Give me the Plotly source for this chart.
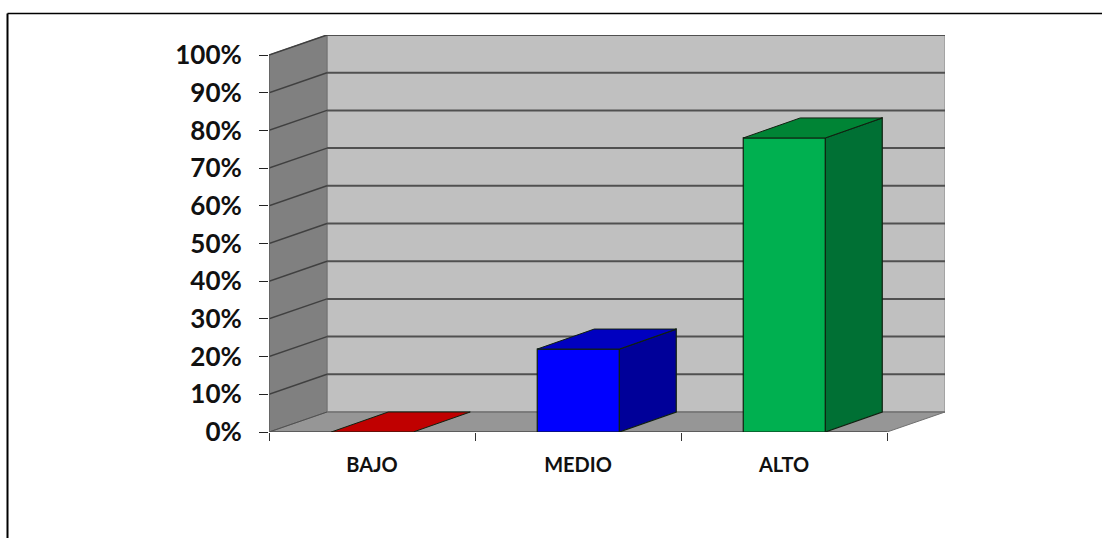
import plotly.graph_objects as go

categories = ["BAJO", "MEDIO", "ALTO"]
values = [0, 22, 78]
front_colors = ["#FF0000", "#0000FF", "#00B050"]
top_colors = ["#C00000", "#0000C0", "#008435"]
side_colors = ["#990000", "#000099", "#007034"]
pct_ticks = list(range(0, 101, 10))
pct_labels = [f"{p}%" for p in pct_ticks]

W, H = 1102, 538
PX_L, PX_R, PX_T, PX_B = 269, 945, 35, 432      # plot area box in the page
CAT_PX = 206
PCT_PX = 3.77
DX = 58 / CAT_PX      # depth offset, in category units
BAR_DX = 57 / CAT_PX  # bars are very slightly shallower than the floor
DY = 20 / PCT_PX      # depth offset, in percent
BAR = 82 / CAT_PX
BAR_SHIFT = 0.25 / CAT_PX
N = len(categories)

fig = go.Figure()


def poly(xs, ys, fill, line="#404040", lw=1):
    fig.add_trace(go.Scatter(x=xs, y=ys, mode="lines", fill="toself", fillcolor=fill,
                             line=dict(color=line, width=lw), hoverinfo="skip", showlegend=False))


def seg(xs, ys, color, lw):
    fig.add_trace(go.Scatter(x=xs, y=ys, mode="lines", line=dict(color=color, width=lw),
                             hoverinfo="skip", showlegend=False))


# walls and floor
poly([DX, N + DX, N + DX, DX, DX], [DY, DY, 100 + DY, 100 + DY, DY], "#C0C0C0", "#9A9A9A", 1.5)
poly([0, DX, DX, 0, 0], [0, DY, 100 + DY, 100, 0], "#808080", "#707070", 1)
poly([0, N, N + DX, DX, 0], [0, 0, DY, DY, 0], "#969696", "#707070", 1)

# gridlines on the back and side walls
for p in pct_ticks[1:]:
    seg([DX, N + DX], [p + DY, p + DY], "#505050", 2)
    seg([0, DX], [p, p + DY], "#404040", 1.5)
seg([0, DX], [0, DY], "#505050", 1)
seg([DX, N + DX], [DY, DY], "#707070", 1)

# axis lines
seg([0, N], [0, 0], "#505050", 1.5)
seg([0, 0], [0, 100], "#606060", 1.5)

# pseudo 3-D bars
for i, v in enumerate(values):
    x0 = i + 0.5 + BAR_SHIFT - BAR / 2
    x1 = i + 0.5 + BAR_SHIFT + BAR / 2
    if v > 0:
        poly([x1, x1 + BAR_DX, x1 + BAR_DX, x1, x1], [0, DY, v + DY, v, 0], side_colors[i], "#102010", 1.2)
        poly([x0, x1, x1, x0, x0], [0, 0, v, v, 0], front_colors[i], "#102010", 1.2)
    poly([x0, x1, x1 + BAR_DX, x0 + BAR_DX, x0], [v, v, v + DY, v + DY, v], top_colors[i], "#102010", 1)

fig.update_layout(
    width=W, height=H,
    margin=dict(l=PX_L, r=W - PX_R, t=PX_T, b=H - PX_B, autoexpand=False),
    paper_bgcolor="white", plot_bgcolor="white", showlegend=False,
    xaxis=dict(
        range=[0, N + DX], showgrid=False, zeroline=False, showline=False,
        tickmode="array", tickvals=[i + 0.5 for i in range(N)], ticktext=categories,
        ticks="", ticklabelstandoff=19,
        tickfont=dict(family="Lato", size=20, color="#111111", weight="bold"),
        minor=dict(tickmode="array", tickvals=list(range(N + 1)), ticks="outside",
                   ticklen=8, tickwidth=1, tickcolor="#333333", showgrid=False),
    ),
    yaxis=dict(
        range=[0, 397 / PCT_PX], showgrid=False, zeroline=False, showline=False,
        tickmode="array", tickvals=pct_ticks, ticktext=pct_labels,
        ticks="outside", ticklen=9, tickwidth=1, tickcolor="#222222",
        ticklabelstandoff=12,
        tickfont=dict(family="Lato", size=26, color="#111111", weight="bold"),
    ),
    shapes=[
        dict(type="line", xref="paper", yref="paper", layer="below",
             x0=(7.5 - PX_L) / (PX_R - PX_L), x1=(W + 5 - PX_L) / (PX_R - PX_L),
             y0=(PX_B - 13.5) / (PX_B - PX_T), y1=(PX_B - 13.5) / (PX_B - PX_T),
             line=dict(color="black", width=1.5)),
        dict(type="line", xref="paper", yref="paper", layer="below",
             x0=(7.5 - PX_L) / (PX_R - PX_L), x1=(7.5 - PX_L) / (PX_R - PX_L),
             y0=(PX_B - 13.5) / (PX_B - PX_T), y1=(PX_B - H - 5) / (PX_B - PX_T),
             line=dict(color="black", width=2)),
    ],
)

fig.write_html("out.html", config={"displayModeBar": False},
               post_script="document.body.style.margin='0';document.body.style.overflow='hidden';")
